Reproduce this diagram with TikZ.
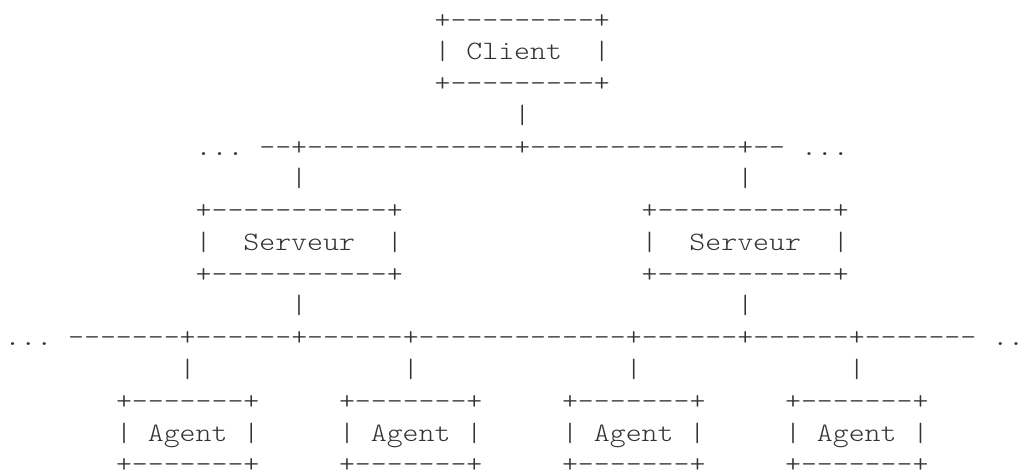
\documentclass[tikz,border=0pt]{standalone}
\usepackage{fontspec}
\setmonofont{Latin Modern Mono Light}[FakeStretch=1.143]
\definecolor{ink}{HTML}{333333}
\begin{document}
\begin{tikzpicture}[x=1bp,y=1bp,
  asc/.style={anchor=base west, inner sep=0pt, outer sep=0pt,
    font=\ttfamily\fontsize{26.55bp}{31.75bp}\selectfont, text=ink}]
\useasboundingbox (0,0) rectangle (1027,-473);
% Client box
\node[asc] (ct) at (434.61,-28.25) {+---------+};
\node[asc] (cm) at (434.61,-60.00) {|\ Client\ \ |};
\node[asc] (cb) at (434.61,-91.75) {+---------+};
\node[asc] (cl) at (514.26,-123.50) {|};
% upper bus
\node[asc] (bus1) at (195.66,-155.25) {...\ --+-------------+-------------+--\ ...};
\node[asc] (s1up) at (291.24,-187.00) {|};
\node[asc] (s2up) at (737.28,-187.00) {|};
% Server boxes
\node[asc] (s1t) at (195.66,-218.75) {+-----------+};
\node[asc] (s2t) at (641.70,-218.75) {+-----------+};
\node[asc] (s1m) at (195.66,-250.50) {|\ \ Serveur\ \ |};
\node[asc] (s2m) at (641.70,-250.50) {|\ \ Serveur\ \ |};
\node[asc] (s1b) at (195.66,-282.25) {+-----------+};
\node[asc] (s2b) at (641.70,-282.25) {+-----------+};
\node[asc] (s1dn) at (291.24,-314.00) {|};
\node[asc] (s2dn) at (737.28,-314.00) {|};
% lower bus
\node[asc] (bus2) at (4.5,-345.75) {...\ -------+------+------+-------------+------+------+-------\ ..};
% agent links
\node[asc] (a1up) at (179.73,-377.50) {|};
\node[asc] (a2up) at (402.75,-377.50) {|};
\node[asc] (a3up) at (625.77,-377.50) {|};
\node[asc] (a4up) at (848.79,-377.50) {|};
% Agent boxes
\node[asc] (a1t) at (116.01,-409.25) {+-------+};
\node[asc] (a2t) at (339.03,-409.25) {+-------+};
\node[asc] (a3t) at (562.05,-409.25) {+-------+};
\node[asc] (a4t) at (785.07,-409.25) {+-------+};
\node[asc] (a1m) at (116.01,-441.00) {|\ Agent\ |};
\node[asc] (a2m) at (339.03,-441.00) {|\ Agent\ |};
\node[asc] (a3m) at (562.05,-441.00) {|\ Agent\ |};
\node[asc] (a4m) at (785.07,-441.00) {|\ Agent\ |};
\node[asc] (a1b) at (116.01,-472.75) {+-------+};
\node[asc] (a2b) at (339.03,-472.75) {+-------+};
\node[asc] (a3b) at (562.05,-472.75) {+-------+};
\node[asc] (a4b) at (785.07,-472.75) {+-------+};
\end{tikzpicture}
\end{document}
